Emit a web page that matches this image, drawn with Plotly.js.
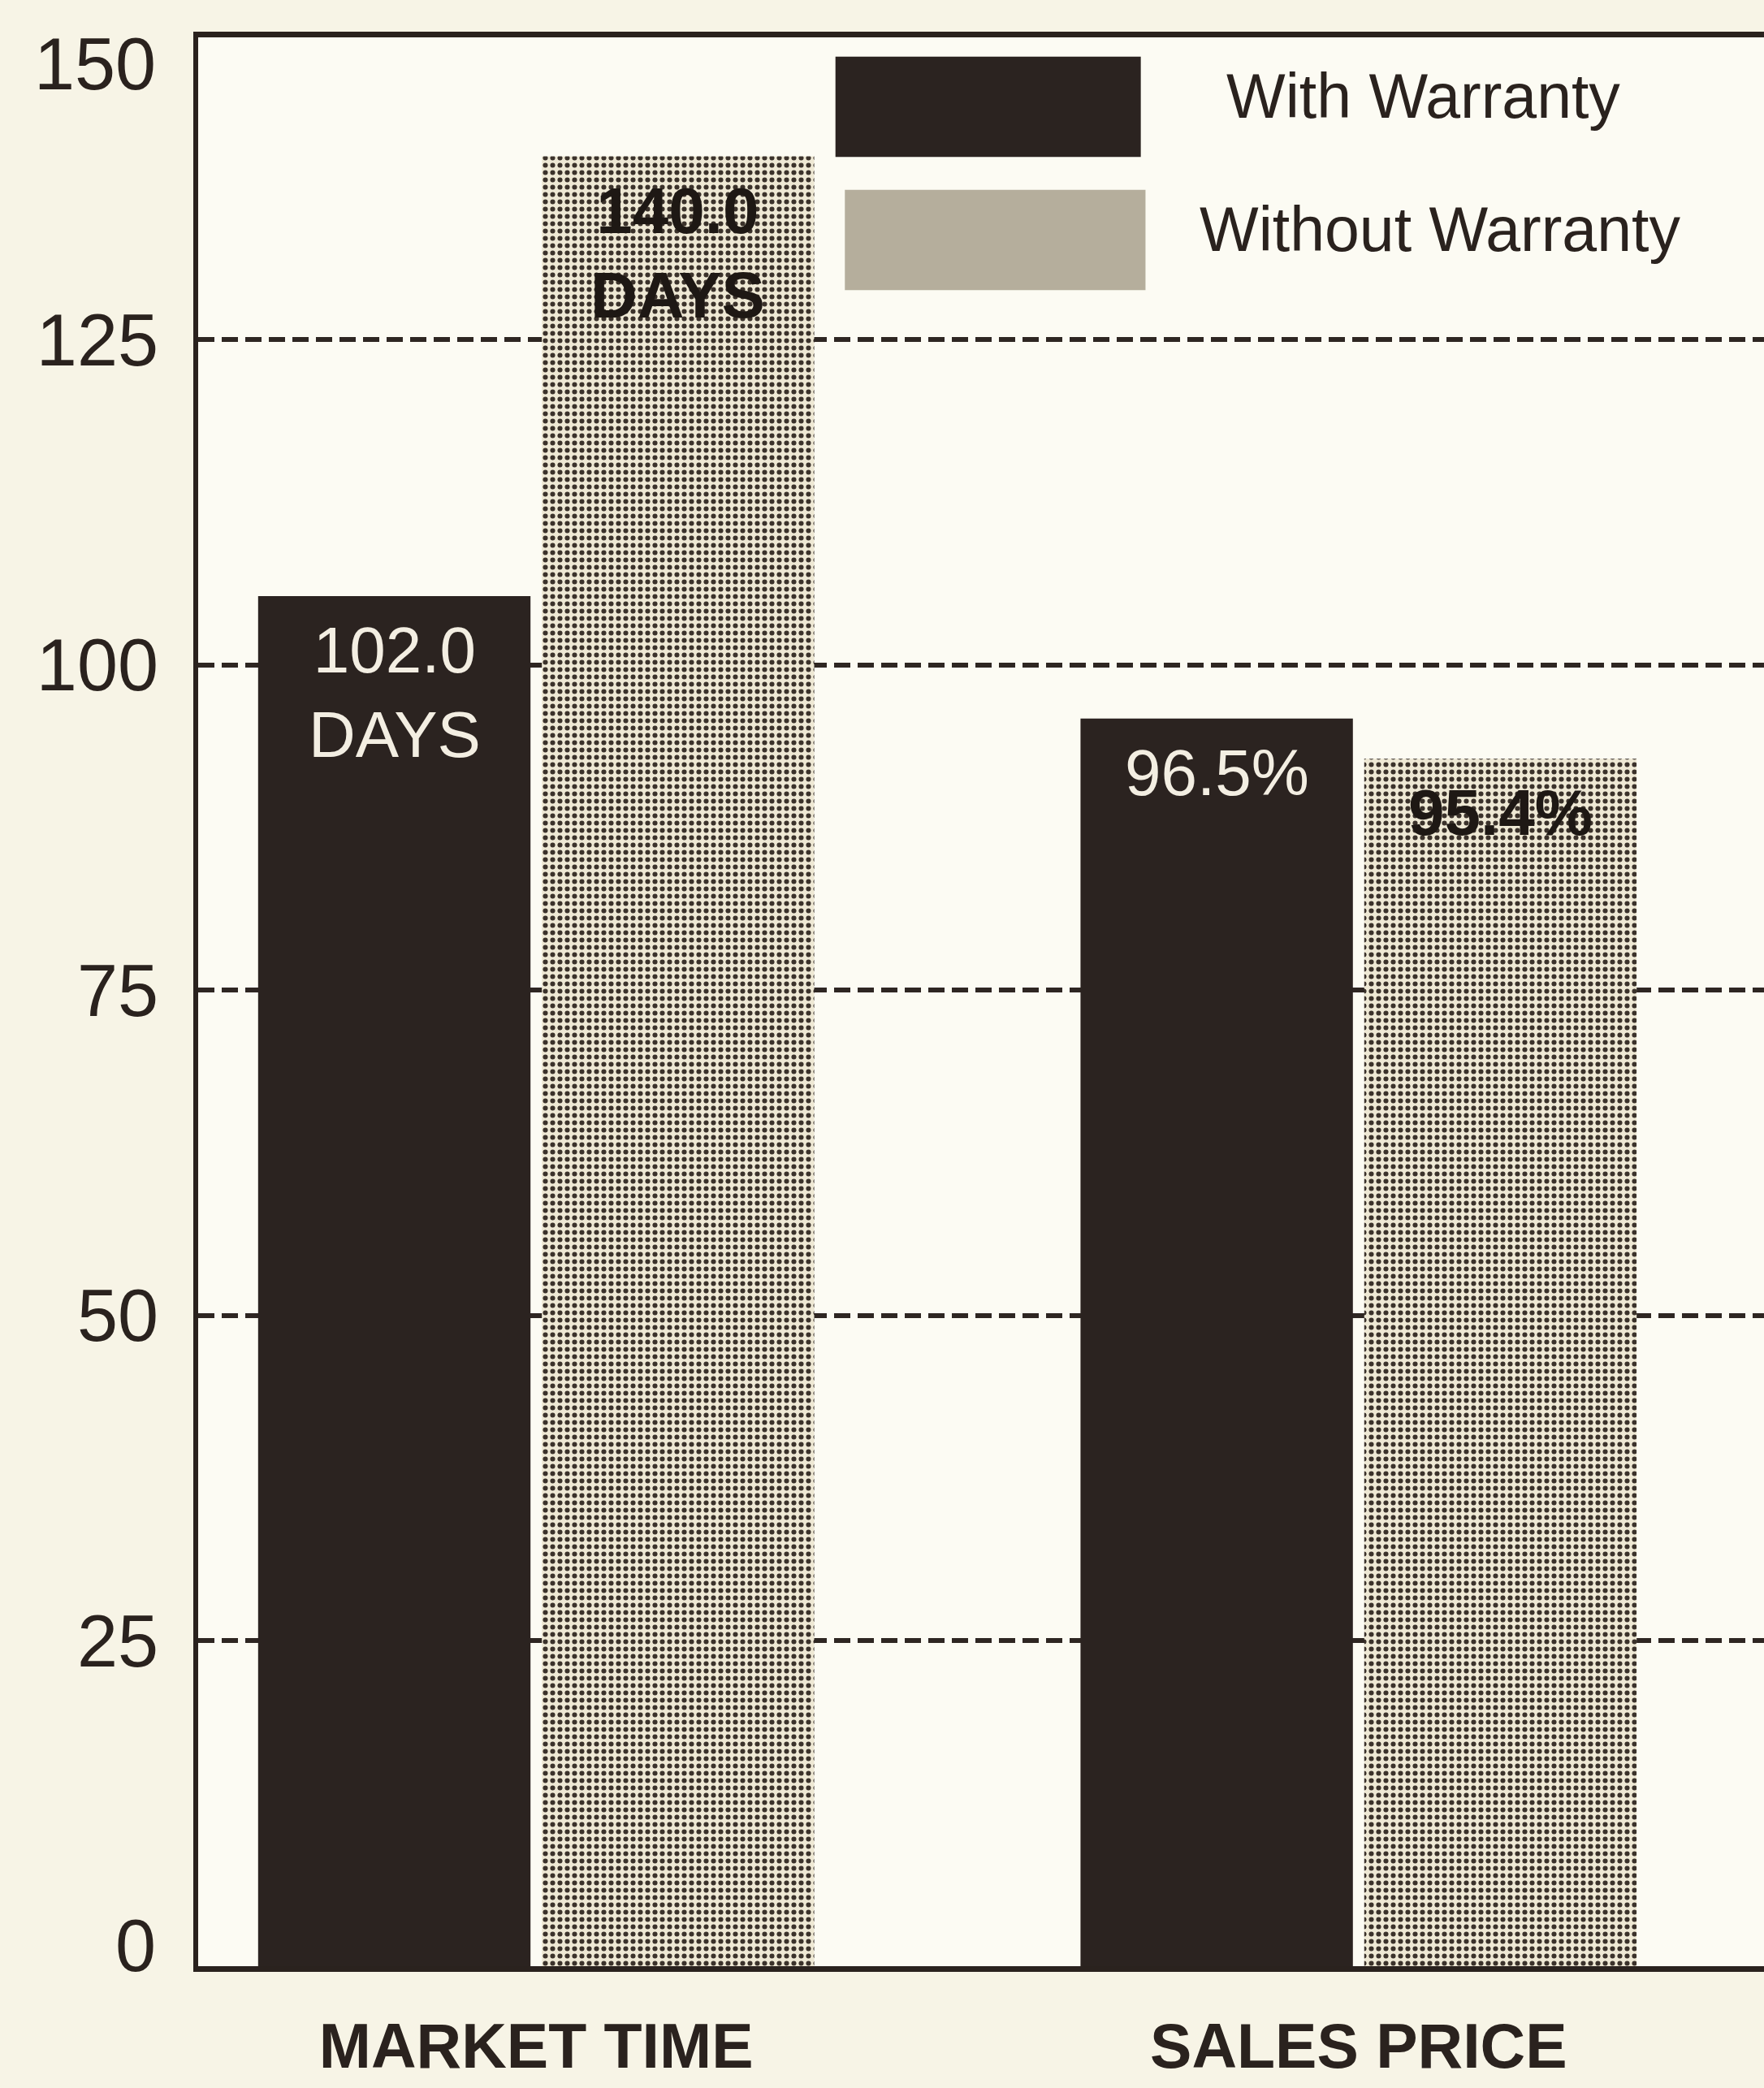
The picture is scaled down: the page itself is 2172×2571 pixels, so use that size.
<!DOCTYPE html>
<html><head><meta charset="utf-8">
<script src="https://cdn.plot.ly/plotly-3.0.1.min.js"></script>
<style>html,body{margin:0;padding:0;background:#f7f4e6;}</style>
</head><body><div id="chart" style="width:2172px;height:2571px;"></div>
<script>
// ---- data ----
const categories = ['MARKET TIME', 'SALES PRICE'];
const seriesNames = ['With Warranty', 'Without Warranty'];
const withWarranty = [105.3, 95.9];      // bar heights as drawn
const withoutWarranty = [139.1, 92.8];   // bar heights as drawn
const withLabels = ['102.0<br>DAYS', '96.5%'];
const withoutLabels = ['140.0<br>DAYS', '95.4%'];
const yTickVals = [25, 50, 75, 100, 125];
const yTickText = ['25', '50', '75', '100', '125'];
const yEndLabels = ['0', '150'];

// ---- style ----
const INK = '#2a221e';
const DARK = '#2b2320';
const BARGAP = 0.31, GROUPGAP = 0.04;
const SANS = '"Liberation Sans", Arial, sans-serif';

const traces = [
  {
    type: 'bar', name: seriesNames[0], x: categories, y: withWarranty,
    marker: {color: DARK, line: {width: 0}}, hoverinfo: 'skip'
  },
  {
    type: 'bar', name: seriesNames[1], x: categories, y: withoutWarranty,
    marker: {
      color: '#eee8d4', line: {width: 0},
      pattern: {shape: '.', fillmode: 'replace', bgcolor: '#eee8d4', fgcolor: '#3b322b', size: 9, solidity: 0.36}
    },
    hoverinfo: 'skip'
  }
];

// value labels inside the bars, centred on each bar
const slot = (1 - BARGAP) / 2;
const annotations = [];
const series = [
  {vals: withWarranty, labels: withLabels, off: -slot / 2, color: '#f3eee2', weight: 'normal'},
  {vals: withoutWarranty, labels: withoutLabels, off: slot / 2, color: '#1e1814', weight: 'bold'}
];
series.forEach(s => {
  categories.forEach((c, j) => {
    annotations.push({
      xref: 'x', yref: 'y', x: j + s.off, y: s.vals[j],
      yanchor: 'top', xanchor: 'center', yshift: -20,
      text: s.labels[j], showarrow: false,
      font: {family: SANS, size: 80, color: s.color, weight: s.weight}
    });
  });
});
// end labels of the value axis
annotations.push({xref: 'paper', yref: 'paper', x: 0, y: 0, xanchor: 'right', yanchor: 'middle',
  xshift: -50, yshift: 25, text: yEndLabels[0], showarrow: false, font: {family: SANS, size: 90, color: INK}});
annotations.push({xref: 'paper', yref: 'paper', x: 0, y: 1, xanchor: 'right', yanchor: 'middle',
  xshift: -50, yshift: -33, text: yEndLabels[1], showarrow: false, font: {family: SANS, size: 90, color: INK}});
// legend text
annotations.push({xref: 'paper', yref: 'paper', x: 0.6556, y: 0.9697, xanchor: 'left', yanchor: 'middle',
  text: seriesNames[0], showarrow: false, font: {family: SANS, size: 77, color: INK}});
annotations.push({xref: 'paper', yref: 'paper', x: 0.6385, y: 0.9006, xanchor: 'left', yanchor: 'middle',
  text: seriesNames[1], showarrow: false, font: {family: SANS, size: 77, color: INK}});

const shapes = [
  {type: 'rect', xref: 'paper', yref: 'paper', x0: 0.407, x1: 0.602, y0: 0.938, y1: 0.990,
   fillcolor: DARK, line: {width: 0}, layer: 'above'},
  {type: 'rect', xref: 'paper', yref: 'paper', x0: 0.413, x1: 0.605, y0: 0.869, y1: 0.921,
   fillcolor: '#b5ae9c', line: {width: 0}, layer: 'above'}
];

const layout = {
  width: 2172, height: 2571,
  margin: {l: 244, r: 0, t: 46, b: 150, pad: 0},
  paper_bgcolor: '#f7f4e6', plot_bgcolor: '#fcfbf3',
  barmode: 'group', bargap: BARGAP, bargroupgap: GROUPGAP,
  showlegend: false,
  font: {family: SANS, color: INK},
  xaxis: {
    type: 'category', range: [-0.411, 1.493],
    showline: true, linecolor: INK, linewidth: 7, mirror: true,
    showgrid: false, zeroline: false, ticks: '',
    ticklabelstandoff: 26,
    tickfont: {family: SANS, size: 77, color: INK, weight: 'bold'}
  },
  yaxis: {
    range: [0, 148.25], tickvals: yTickVals, ticktext: yTickText,
    showline: true, linecolor: INK, linewidth: 6,
    showgrid: true, gridcolor: '#2e2622', gridwidth: 6, griddash: '20px,9px',
    zeroline: false, ticks: '', ticklabelstandoff: 25,
    tickfont: {family: SANS, size: 90, color: INK}
  },
  annotations: annotations,
  shapes: shapes
};

Plotly.newPlot('chart', traces, layout, {staticPlot: true, displayModeBar: false});
</script>
</body></html>
